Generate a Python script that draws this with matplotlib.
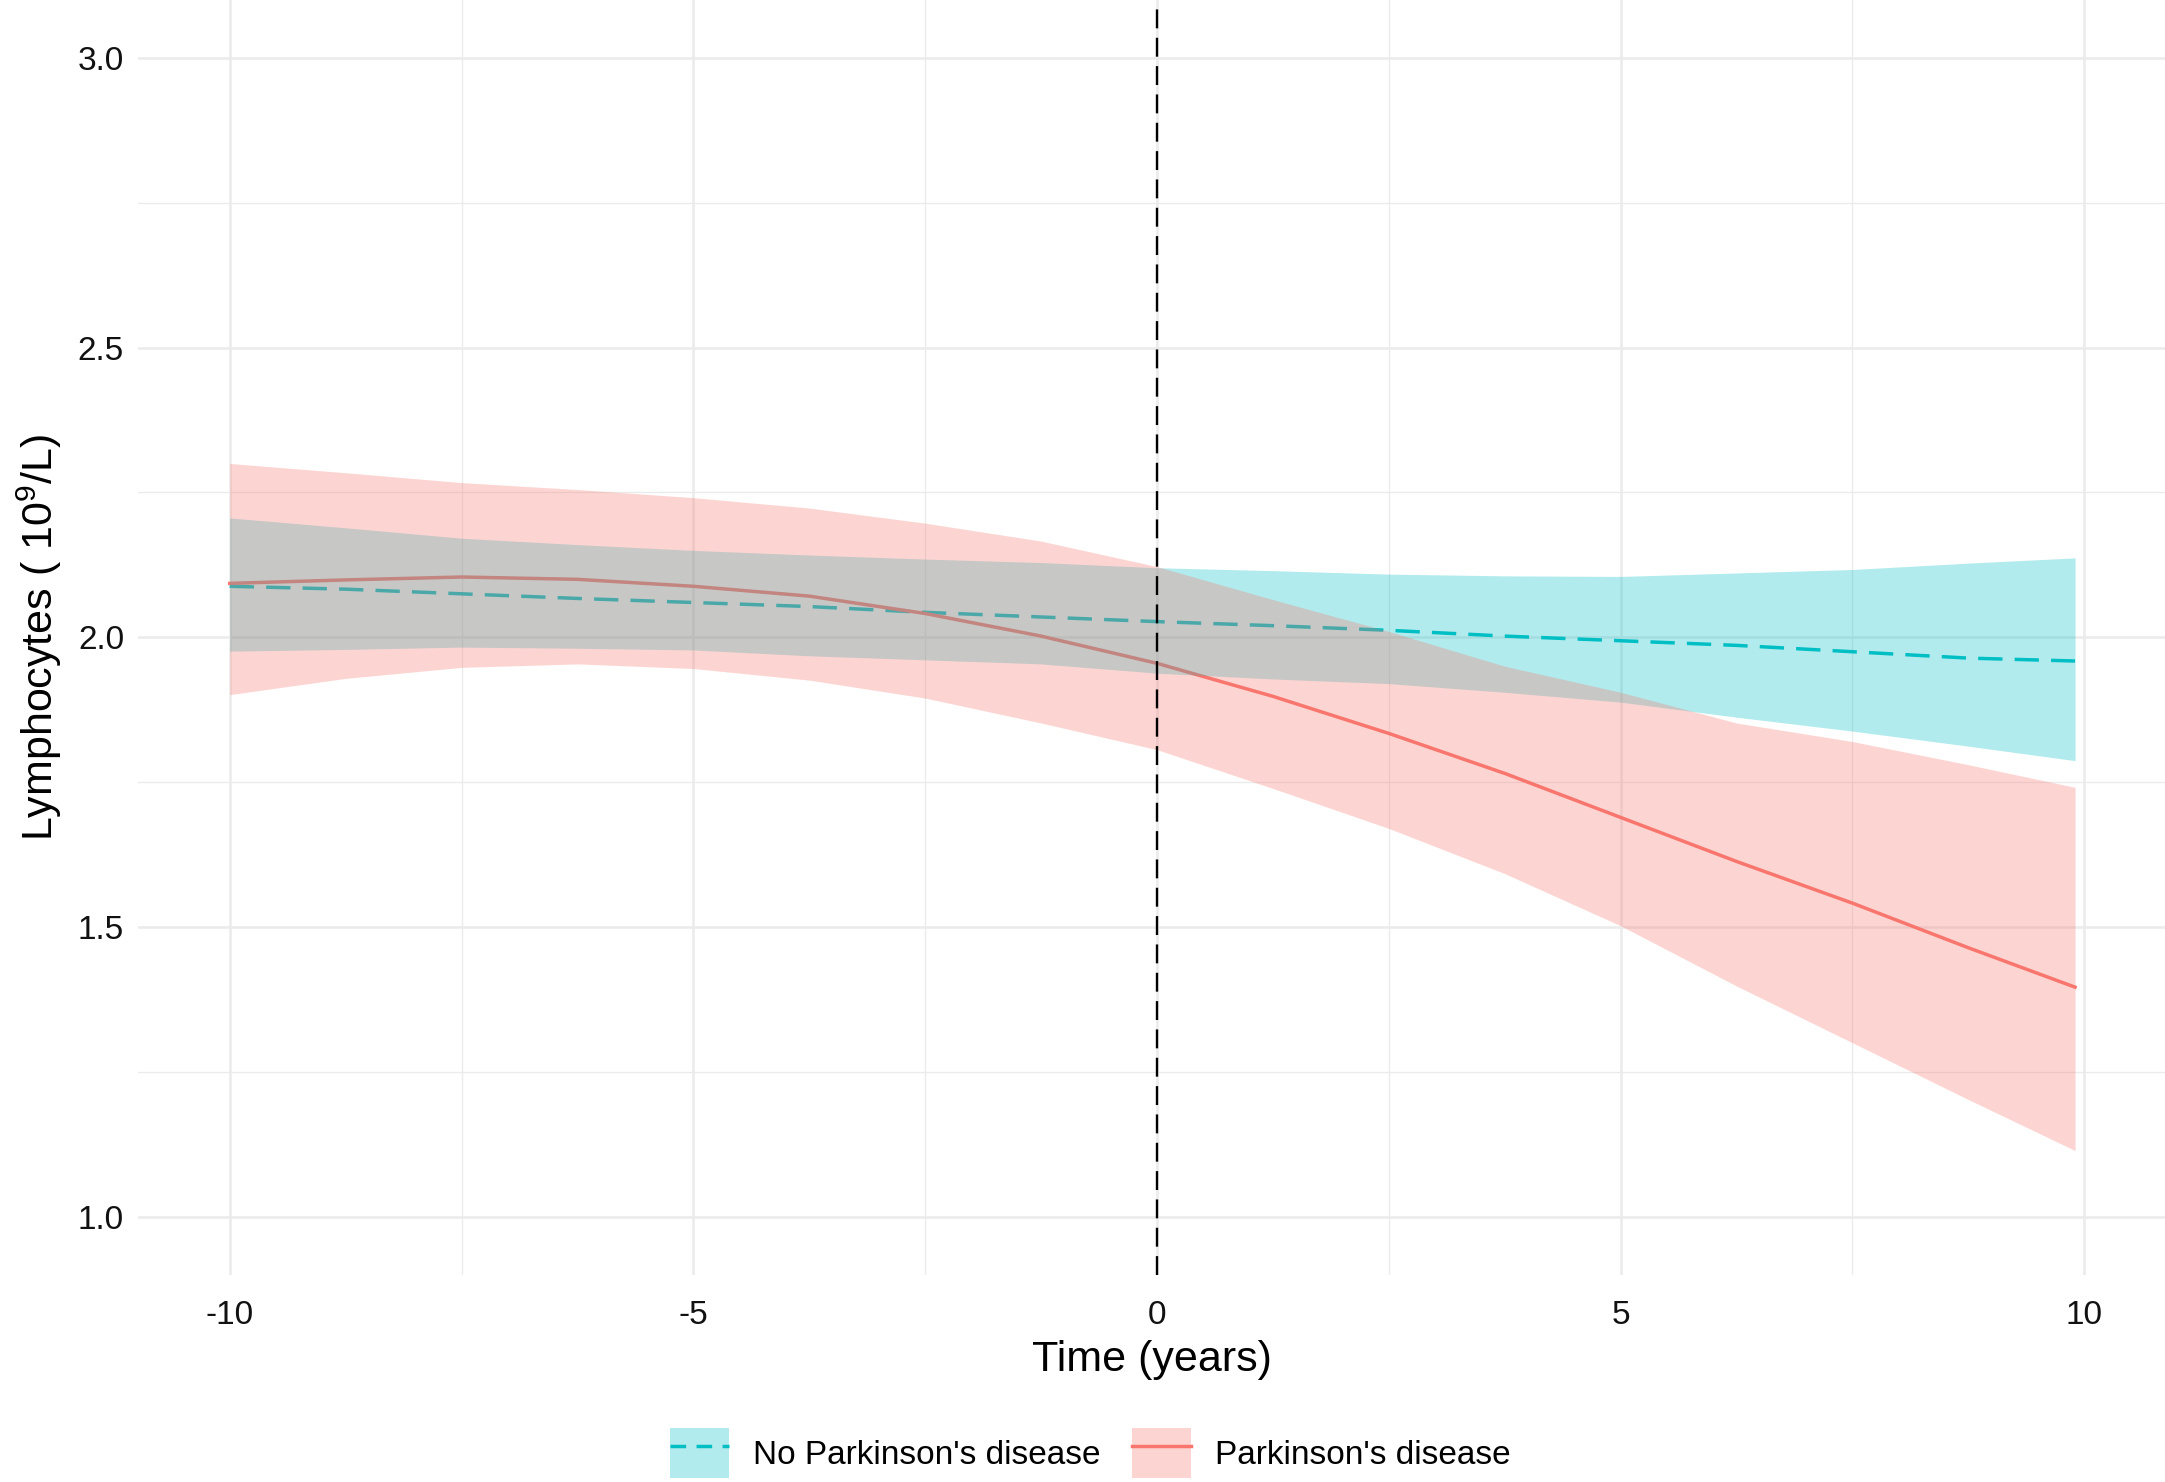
import matplotlib.pyplot as plt
from matplotlib.patches import Patch
from matplotlib.lines import Line2D

plt.rcParams['font.family'] = ['Liberation Sans', 'DejaVu Sans']
plt.rcParams['mathtext.fontset'] = 'custom'
plt.rcParams['mathtext.rm'] = 'Liberation Sans'
plt.rcParams['mathtext.it'] = 'Liberation Sans'

# data
tiempo = [-10, -8.75, -7.5, -6.25, -5, -3.75, -2.5, -1.25, 0,
          1.25, 2.5, 3.75, 5, 6.25, 7.5, 8.75, 9.9]

sin_pd = [2.088, 2.083, 2.075, 2.067, 2.060, 2.053, 2.043, 2.035, 2.027,
          2.020, 2.012, 2.002, 1.994, 1.986, 1.975, 1.964, 1.959]
sin_pd_sup = [2.206, 2.189, 2.171, 2.160, 2.150, 2.142, 2.135, 2.129, 2.120,
              2.115, 2.109, 2.106, 2.105, 2.111, 2.117, 2.128, 2.137]
sin_pd_inf = [1.976, 1.979, 1.983, 1.981, 1.978, 1.968, 1.961, 1.954, 1.938,
              1.928, 1.920, 1.905, 1.888, 1.862, 1.838, 1.812, 1.787]

con_pd = [2.093, 2.099, 2.104, 2.100, 2.088, 2.071, 2.041, 2.002, 1.955,
          1.898, 1.834, 1.765, 1.689, 1.613, 1.541, 1.464, 1.396]
con_pd_sup = [2.300, 2.284, 2.267, 2.255, 2.241, 2.223, 2.197, 2.166, 2.122,
              2.065, 2.010, 1.950, 1.905, 1.852, 1.820, 1.780, 1.741]
con_pd_inf = [1.901, 1.929, 1.948, 1.954, 1.946, 1.926, 1.895, 1.852, 1.806,
              1.739, 1.670, 1.592, 1.502, 1.398, 1.300, 1.202, 1.114]

x_ticks = [-10, -5, 0, 5, 10]
x_labels = ['-10', '-5', '0', '5', '10']
y_ticks = [1.0, 1.5, 2.0, 2.5, 3.0]
y_labels = ['1.0', '1.5', '2.0', '2.5', '3.0']
x_minor = [-7.5, -2.5, 2.5, 7.5]
y_minor = [1.25, 1.75, 2.25, 2.75]

grupos = ["No Parkinson's disease", "Parkinson's disease"]

TEAL = '#00BFC4'
ROJO = '#F8766D'
ALFA = 0.3

fig = plt.figure(figsize=(21.65, 14.82), dpi=100)
ax = fig.add_axes([0.0637, 0.140, 0.9363, 0.860])

# lines first, ribbons on top (as in the reference)
ax.plot(tiempo, sin_pd, color=TEAL, lw=2.5, ls=(0, (7, 3.5)), zorder=2)
ax.plot(tiempo, con_pd, color=ROJO, lw=2.5, zorder=2)
ax.fill_between(tiempo, sin_pd_inf, sin_pd_sup, color=TEAL, alpha=ALFA, lw=0, zorder=3)
ax.fill_between(tiempo, con_pd_inf, con_pd_sup, color=ROJO, alpha=ALFA, lw=0, zorder=3)

ax.axvline(0, color='black', lw=1.7, ls=(0, (8, 4)), zorder=4)

ax.set_xlim(-10.99, 10.87)
ax.set_ylim(0.9, 3.1)
ax.set_xticks(x_ticks)
ax.set_xticklabels(x_labels)
ax.set_yticks(y_ticks)
ax.set_yticklabels(y_labels)
ax.set_xticks(x_minor, minor=True)
ax.set_yticks(y_minor, minor=True)

ax.grid(which='major', color='#EBEBEB', lw=1.8, zorder=0)
ax.grid(which='minor', color='#EBEBEB', lw=1.0, zorder=0)
ax.set_axisbelow(True)
for s in ax.spines.values():
    s.set_visible(False)
ax.tick_params(which='both', length=0, labelsize=24, colors='#111111')
ax.tick_params(axis='x', pad=18)
ax.tick_params(axis='y', pad=10)

ax.set_xlabel('Time (years)', fontsize=31, labelpad=7)
ax.set_ylabel(r'Lymphocytes ( 10$^{9}$/L)', fontsize=31, labelpad=10)

# legend: filled key with the line drawn over it
h1 = (Patch(facecolor=TEAL, alpha=ALFA, lw=0),
      Line2D([], [], color=TEAL, lw=2.5, ls=(0, (4.5, 3))))
h2 = (Patch(facecolor=ROJO, alpha=ALFA, lw=0),
      Line2D([], [], color=ROJO, lw=2.5))
fig.legend([h1, h2], grupos, loc='center', ncol=2,
           bbox_to_anchor=(0.5036, 0.0195), bbox_transform=fig.transFigure,
           frameon=False, fontsize=24, handlelength=1.77, handleheight=1.95,
           handletextpad=0.72, columnspacing=0.95, borderpad=0, borderaxespad=0)

fig.savefig('out.png', dpi=100)
